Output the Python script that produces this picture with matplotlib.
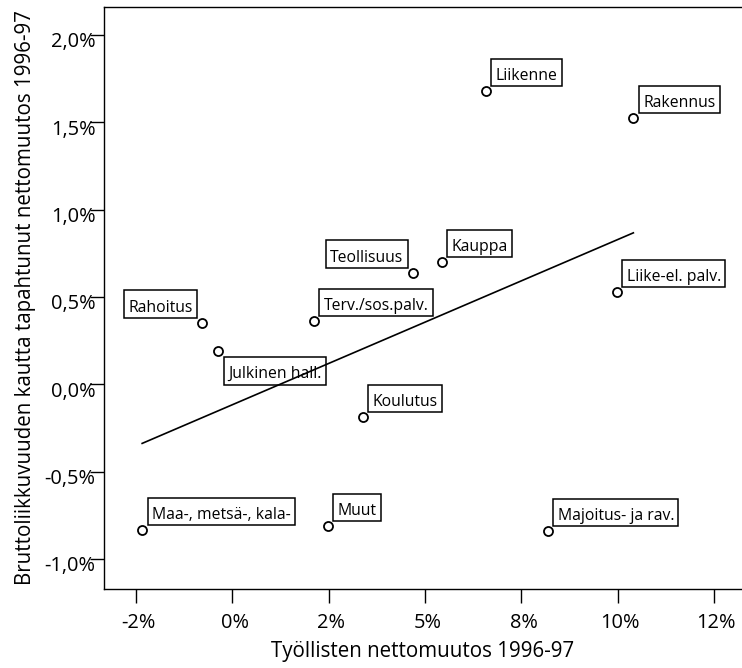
import numpy as np
import matplotlib
matplotlib.use('Agg')
import matplotlib.pyplot as plt
from matplotlib.path import Path
from matplotlib.transforms import ScaledTranslation

# sector values (percent)
sectors = ['Liikenne', 'Rakennus', 'Teollisuus', 'Kauppa', 'Liike-el. palv.',
           'Rahoitus', 'Terv./sos.palv.', 'Julkinen hall.', 'Koulutus',
           'Maa-, metsä-, kala-', 'Muut', 'Majoitus- ja rav.']
employment_change = [6.58, 10.41, 4.69, 5.44, 9.98, -0.79, 2.12, -0.37, 3.39, -2.34, 2.48, 8.19]
mobility_change = [1.679, 1.524, 0.637, 0.700, 0.528, 0.351, 0.362, 0.191, -0.187, -0.834, -0.811, -0.840]

x_ticks = [-2.5, 0, 2.5, 5, 7.5, 10, 12.5]
x_tick_labels = ['-2%', '0%', '2%', '5%', '8%', '10%', '12%']
y_ticks = [2.0, 1.5, 1.0, 0.5, 0.0, -0.5, -1.0]
y_tick_labels = ['2,0%', '1,5%', '1,0%', '0,5%', '0,0%', '-0,5%', '-1,0%']

plt.rcParams['font.family'] = ['Open Sans', 'DejaVu Sans']


# SPSS-like label box: text sits low, more room on top
def label_box(x0, y0, width, height, mutation_size):
    l = x0 - 0.27 * mutation_size
    r = x0 + width + 0.27 * mutation_size
    b = y0 - 0.15 * mutation_size
    t = y0 + height + 0.6 * mutation_size
    return Path([(l, b), (r, b), (r, t), (l, t), (l, b)], closed=True)


fig = plt.figure(figsize=(7.42, 6.68), dpi=100)
ax = fig.add_axes([104 / 742, 79 / 668, 638 / 742, 582 / 668])

x = np.array(employment_change)
y = np.array(mobility_change)

# points
ax.plot(x, y, 'o', mfc='white', mec='black', ms=6.5, mew=1.3, zorder=3)

# linear fit over the data range
slope, intercept = np.polyfit(x, y, 1)
xs = np.array([x.min(), x.max()])
ax.plot(xs, slope * xs + intercept, color='black', lw=1.2, zorder=2)

# label boxes next to the points
where = {'Teollisuus': 'ul', 'Rahoitus': 'ul', 'Julkinen hall.': 'lr'}
for name, xi, yi in zip(sectors, x, y):
    pos = where.get(name, 'ur')
    if pos == 'ul':
        off, ha, va = (-6.8, 5.3), 'right', 'bottom'
    elif pos == 'lr':
        off, ha, va = (7.2, -11.0), 'left', 'top'
    else:
        off, ha, va = (7.0, 5.0), 'left', 'bottom'
    ax.annotate(name, (xi, yi), xytext=off, textcoords='offset points',
                ha=ha, va=va, fontsize=11.3, zorder=1,
                bbox=dict(boxstyle=label_box, fc='white', ec='black', lw=1.1))

ax.set_xlim(-3.33, 13.23)
ax.set_ylim(-1.172, 2.16)

ax.set_xticks(x_ticks)
ax.set_xticklabels(x_tick_labels)
ax.set_yticks(y_ticks)
ax.set_yticklabels(y_tick_labels)

ax.spines['right'].set_visible(False)
for s in ['left', 'top', 'bottom']:
    ax.spines[s].set_linewidth(1.0)

ax.tick_params(direction='out', length=10, width=1.0, labelsize=14.4)
ax.tick_params(axis='x', pad=7)
ax.tick_params(axis='y', pad=-4)

# nudge tick labels like the original
for lab in ax.get_yticklabels():
    lab.set_transform(lab.get_transform() + ScaledTranslation(0, -5 / 100, fig.dpi_scale_trans))
for lab in ax.get_xticklabels():
    lab.set_transform(lab.get_transform() + ScaledTranslation(2.5 / 100, 0, fig.dpi_scale_trans))

ax.set_xlabel('Työllisten nettomuutos 1996-97', fontsize=14.8)
ax.set_ylabel('Bruttoliikkuvuuden kautta tapahtunut nettomuutos 1996-97', fontsize=14.8)
ax.xaxis.set_label_coords(0.5, -0.089)
ax.yaxis.set_label_coords(-0.107, 0.5)

fig.savefig('out.png', dpi=100)
